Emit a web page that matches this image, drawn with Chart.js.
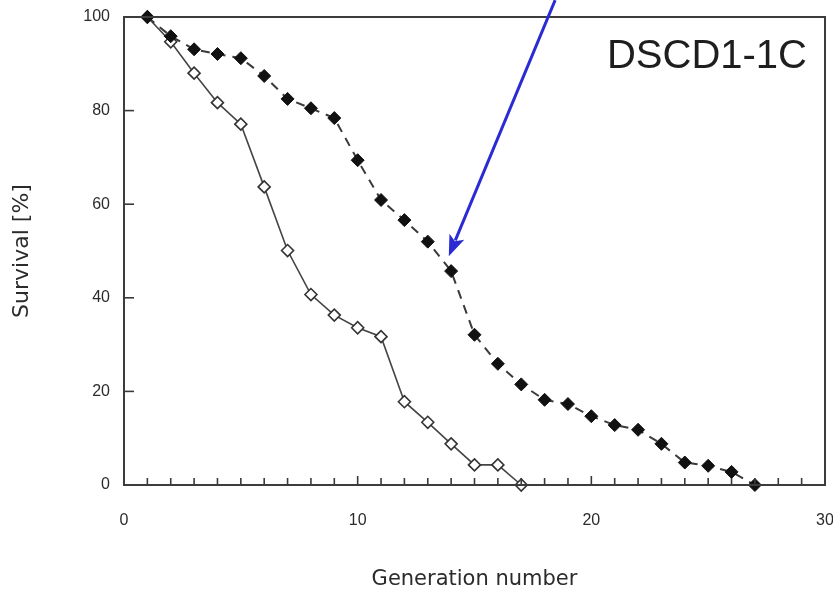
<!DOCTYPE html>
<html>
<head>
<meta charset="utf-8">
<title>DSCD1-1C survival</title>
<script src="https://cdn.jsdelivr.net/npm/chart.js@4.4.1/dist/chart.umd.min.js"></script>
<style>
  html, body { margin: 0; padding: 0; background: #ffffff; }
  #wrap { width: 833px; height: 592px; }
</style>
</head>
<body>
<div id="wrap"><canvas id="chart" width="833" height="592"></canvas></div>
<script>
// Generation numbers for each series
const generationsSolid = [1, 2, 3, 4, 5, 6, 7, 8, 9, 10, 11, 12, 13, 14, 15, 16, 17];
const generationsDashed = [1, 2, 3, 4, 5, 6, 7, 8, 9, 10, 11, 12, 13, 14, 15, 16, 17, 18, 19, 20, 21, 22, 23, 24, 25, 26, 27];

// Survival [%] per generation
const survivalSolid = [100, 94.7, 88.0, 81.7, 77.1, 63.7, 50.1, 40.7, 36.3, 33.6, 31.7, 17.8, 13.4, 8.8, 4.3, 4.3, 0];
const survivalDashed = [100, 95.9, 93.1, 92.1, 91.2, 87.4, 82.5, 80.5, 78.4, 69.4, 60.9, 56.6, 52.0, 45.7, 32.1, 25.9, 21.5, 18.2, 17.3, 14.7, 12.8, 11.8, 8.8, 4.8, 4.1, 2.8, 0];

// Axis ranges and labelled ticks
const xTickValues = [0, 10, 20, 30];
const yTickValues = [0, 20, 40, 60, 80, 100];

// Panel label and the arrow that points at generation 14
const panelLabel = 'DSCD1-1C';
const arrowTail = { x: 18.45, y: 103.6 };
const arrowTip = { x: 13.9, y: 48.9 };

const toPoints = (xs, ys) => xs.map((x, i) => ({ x: x, y: ys[i] }));

const ink = '#2b2b2b';

// Keep the plot box fixed: no extra room for overhanging tick labels
function noOverhang(scale) {
  scale.paddingTop = 0;
  scale.paddingBottom = 0;
  scale.paddingLeft = 0;
  scale.paddingRight = 0;
}

// Frame, inward tick marks, panel label and arrow
const decorations = {
  id: 'decorations',
  afterDraw(chart) {
    const { ctx, chartArea: a, scales: { x, y } } = chart;
    ctx.save();
    // inward minor ticks along the bottom axis
    ctx.strokeStyle = '#3a3a3a';
    ctx.lineWidth = 1.6;
    for (let v = 1; v < 30; v++) {
      const px = x.getPixelForValue(v);
      const len = (v % 10 === 0) ? 9 : 7;
      ctx.beginPath();
      ctx.moveTo(px, a.bottom);
      ctx.lineTo(px, a.bottom - len);
      ctx.stroke();
    }
    // inward ticks on the left axis
    yTickValues.forEach(v => {
      if (v === 0 || v === 100) return;
      const py = y.getPixelForValue(v);
      ctx.beginPath();
      ctx.moveTo(a.left, py);
      ctx.lineTo(a.left + 10, py);
      ctx.stroke();
    });
    // box frame
    ctx.strokeStyle = '#3c3c3c';
    ctx.lineWidth = 2;
    ctx.strokeRect(a.left, a.top, a.right - a.left, a.bottom - a.top);

    // panel label
    ctx.fillStyle = '#1e1e1e';
    ctx.font = '40px "Liberation Sans", Arial, sans-serif';
    ctx.textAlign = 'right';
    ctx.textBaseline = 'alphabetic';
    ctx.fillText(panelLabel, a.right - 18, a.top + 51);

    // arrow
    const tx = x.getPixelForValue(arrowTail.x), ty = y.getPixelForValue(arrowTail.y);
    const hx = x.getPixelForValue(arrowTip.x), hy = y.getPixelForValue(arrowTip.y);
    const ang = Math.atan2(hy - ty, hx - tx);
    const headLen = 21, headHalf = 8;
    const bx = hx - Math.cos(ang) * headLen, by = hy - Math.sin(ang) * headLen;
    ctx.strokeStyle = '#2b2bd4';
    ctx.fillStyle = '#2b2bd4';
    ctx.lineWidth = 3;
    ctx.beginPath();
    ctx.moveTo(tx, ty);
    ctx.lineTo(bx + Math.cos(ang) * 4, by + Math.sin(ang) * 4);
    ctx.stroke();
    ctx.beginPath();
    ctx.moveTo(hx, hy);
    ctx.lineTo(bx + Math.sin(ang) * headHalf, by - Math.cos(ang) * headHalf);
    ctx.lineTo(bx + Math.cos(ang) * 5, by + Math.sin(ang) * 5);
    ctx.lineTo(bx - Math.sin(ang) * headHalf, by + Math.cos(ang) * headHalf);
    ctx.closePath();
    ctx.fill();
    ctx.restore();
  }
};

new Chart(document.getElementById('chart'), {
  type: 'line',
  data: {
    datasets: [
      {
        data: toPoints(generationsDashed, survivalDashed),
        borderColor: '#3a3a3a',
        borderWidth: 2,
        borderDash: [9, 7],
        pointStyle: 'rectRot',
        pointRadius: 6.5,
        pointBackgroundColor: '#111111',
        pointBorderColor: '#111111',
        pointBorderWidth: 1,
        tension: 0,
        clip: false
      },
      {
        data: toPoints(generationsSolid, survivalSolid),
        borderColor: '#444444',
        borderWidth: 1.6,
        pointStyle: 'rectRot',
        pointRadius: 6,
        pointBackgroundColor: '#ffffff',
        pointBorderColor: '#333333',
        pointBorderWidth: 1.6,
        tension: 0,
        clip: false
      }
    ]
  },
  options: {
    responsive: false,
    animation: false,
    events: [],
    layout: { padding: { top: 17, right: 8, left: 0, bottom: 0 } },
    plugins: { legend: { display: false }, tooltip: { enabled: false } },
    scales: {
      x: {
        type: 'linear',
        min: 0,
        max: 30,
        afterFit(scale) { scale.height = 107; noOverhang(scale); },
        afterBuildTicks(scale) { scale.ticks = xTickValues.map(v => ({ value: v })); },
        grid: { display: false, drawTicks: false },
        border: { display: false },
        ticks: {
          padding: 26,
          color: ink,
          font: { family: '"Liberation Sans", Arial, sans-serif', size: 16 },
          maxRotation: 0
        },
        title: {
          display: true,
          text: 'Generation number',
          color: ink,
          font: { family: '"DejaVu Sans", sans-serif', size: 21 },
          padding: { top: 0, bottom: 0 }
        }
      },
      y: {
        type: 'linear',
        min: 0,
        max: 100,
        afterFit(scale) { scale.width = 124; noOverhang(scale); },
        afterBuildTicks(scale) { scale.ticks = yTickValues.map(v => ({ value: v })); },
        grid: { display: false, drawTicks: false },
        border: { display: false },
        ticks: {
          padding: 14,
          color: ink,
          font: { family: '"Liberation Sans", Arial, sans-serif', size: 16 }
        },
        title: {
          display: true,
          text: 'Survival [%]',
          color: ink,
          font: { family: '"DejaVu Sans", sans-serif', size: 22 },
          padding: { top: 9, bottom: 0 }
        }
      }
    }
  },
  plugins: [decorations]
});
</script>
</body>
</html>
